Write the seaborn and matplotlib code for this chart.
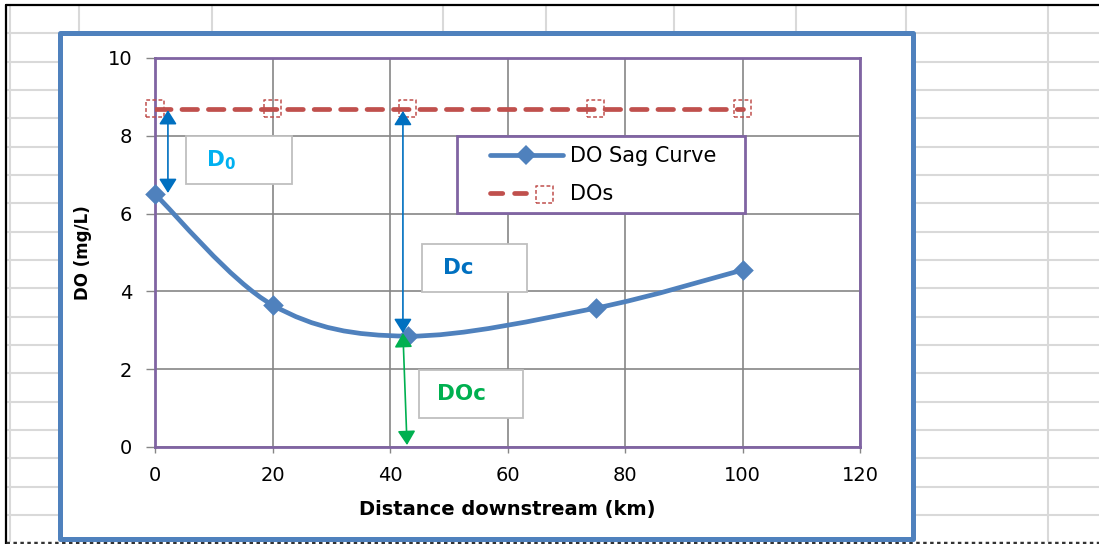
import numpy as np
import matplotlib
matplotlib.use("Agg")
import matplotlib.pyplot as plt
import seaborn as sns
from matplotlib.path import Path
from matplotlib.patches import PathPatch, Rectangle
from matplotlib.lines import Line2D
from matplotlib.legend_handler import HandlerTuple

# ---------------- data ----------------
distance_km = [0, 20, 43, 75, 100]
do_sag = [6.5, 3.65, 2.85, 3.57, 4.55]
do_sat = [8.7, 8.7, 8.7, 8.7, 8.7]
series_names = ["DO Sag Curve", "DOs"]
x_ticks = [0, 20, 40, 60, 80, 100, 120]
y_ticks = [0, 2, 4, 6, 8, 10]
x_label = "Distance downstream (km)"
y_label = "DO (mg/L)"

# ---------------- style ----------------
sns.set_style("white")
plt.rcParams["font.family"] = ["DejaVu Sans"]
plt.rcParams["mathtext.fontset"] = "dejavusans"
plt.rcParams["text.color"] = "black"
plt.rcParams["axes.labelcolor"] = "black"

W, H = 1099, 544
BLUE = "#4F81BD"
RED = "#C0504D"
PURPLE = "#8064A2"
GRID = "#868686"
SHEET = "#D9D9D9"

fig = plt.figure(figsize=(W / 100, H / 100), dpi=100)
fig.patch.set_facecolor("white")

def fx(px):
    return px / W

def fy(py):
    return 1 - py / H

# ---------------- spreadsheet background ----------------
bg = fig.add_axes([0, 0, 1, 1], zorder=-5)
bg.set_xlim(0, W)
bg.set_ylim(H, 0)
bg.axis("off")
row_lines = [33.3 + 28.33 * k for k in range(18)]
for yy in row_lines:
    bg.plot([6, 59], [yy, yy], color=SHEET, lw=1.5)
    bg.plot([913, W], [yy, yy], color=SHEET, lw=1.5)
for xx in [79, 212, 443, 546, 674, 796, 906]:
    bg.plot([xx, xx], [5, 33], color=SHEET, lw=1.5)
bg.plot([1048, 1048], [5, 541], color=SHEET, lw=1.5)
bg.plot([9.5, 9.5], [5, 541], color=SHEET, lw=1.5)
bg.plot([6, W], [5, 5], color="black", lw=1.6)
bg.plot([6, 6], [5, 544], color="black", lw=1.6)
bg.plot([6, W], [542.5, 542.5], color="#333333", lw=2.5, dashes=(1.0, 1.0))
bg.add_patch(Rectangle((59.5, 32.5), 913 - 59.5, 538.5 - 32.5, facecolor="white",
                       edgecolor=BLUE, lw=3.6, joinstyle="round", zorder=3))

# ---------------- main axes ----------------
ax = fig.add_axes([fx(155), fy(447), fx(860) - fx(155), fy(58) - fy(447)], zorder=1)
ax.set_facecolor("white")
ax.set_xlim(0, 120)
ax.set_ylim(0, 10)
ax.set_xticks(x_ticks)
ax.set_yticks(y_ticks)
ax.grid(True, color=GRID, lw=1.2)
ax.set_axisbelow(True)
for s in ax.spines.values():
    s.set_color(PURPLE)
    s.set_linewidth(2.0)
ax.tick_params(axis="y", direction="out", length=6.5, width=1.0, color=GRID,
               labelsize=14, pad=10, labelcolor="black")
ax.tick_params(axis="x", direction="out", length=4, width=1.0, color=GRID,
               labelsize=14, pad=10, labelcolor="black")
ax.tick_params(left=True, bottom=True)

ax.set_xlabel(x_label, fontsize=14, fontweight="bold", va="center", color="black")
ax.xaxis.set_label_coords(0.5, (447 - 510) / 389)
ax.set_ylabel(y_label, fontsize=12, fontweight="bold", va="center", color="black")
ax.yaxis.set_label_coords((83 - 155) / 705, 0.5)

# ---- DOs (dashed line + dashed square markers) ----
sns.lineplot(x=distance_km, y=do_sat, ax=ax, color=RED, lw=3.4, zorder=3, legend=False)
dos_line = ax.lines[-1]
dos_line.set_dashes((3.3, 2.3))
dos_line.set_dash_capstyle("round")
dos_sc = ax.scatter(distance_km, do_sat, marker="s", s=160, facecolors="none",
                    edgecolors=RED, linewidths=1.1, linestyles=(0, (2.5, 1.5)),
                    zorder=4, clip_on=False)

# ---- DO sag smooth curve (Excel-like Bezier smoothing through data) ----
P = np.column_stack([distance_km, do_sag]).astype(float)
n = len(P)
verts = [tuple(P[0])]
codes = [Path.MOVETO]
for i in range(n - 1):
    p_prev = P[i - 1] if i > 0 else P[i]
    p_next2 = P[i + 2] if i + 2 < n else P[i + 1]
    c1 = P[i] + (P[i + 1] - p_prev) / 6.0
    c2 = P[i + 1] - (p_next2 - P[i]) / 6.0
    verts += [tuple(c1), tuple(c2), tuple(P[i + 1])]
    codes += [Path.CURVE4] * 3
ax.add_patch(PathPatch(Path(verts, codes), facecolor="none", edgecolor=BLUE,
                       lw=3.4, capstyle="round", zorder=3))
sns.scatterplot(x=distance_km, y=do_sag, ax=ax, marker="D", s=110, color=BLUE,
                edgecolor=BLUE, linewidth=0, zorder=5, legend=False, clip_on=False)

# ---- annotation arrows ----
ARW = "<|-|>,head_length=0.43,head_width=0.27"
def arrow(x0, y0, x1, y1, color):
    ax.annotate("", xy=(x1, y1), xytext=(x0, y0),
                arrowprops=dict(arrowstyle=ARW, color=color, lw=1.2,
                                mutation_scale=20, shrinkA=0, shrinkB=0),
                zorder=6, annotation_clip=False)

arrow(distance_km[0] + 2.2, do_sat[0] - 0.04, distance_km[0] + 2.2, do_sag[0] + 0.03, "#0070C0")
arrow(distance_km[2] - 0.8, do_sat[2] - 0.06, distance_km[2] - 0.8, do_sag[2] + 0.08, "#0070C0")
arrow(distance_km[2] - 0.8, do_sag[2] + 0.08, distance_km[2] - 0.1, 0.05, "#00B050")

# ---- text boxes ----
def tbox(x0, y0, x1, y1, text, tx, color):
    fig.add_artist(Rectangle((fx(x0), fy(y1)), fx(x1) - fx(x0), fy(y0) - fy(y1),
                             transform=fig.transFigure, facecolor="white",
                             edgecolor="#BFBFBF", lw=1.3, zorder=3))
    fig.text(fx(tx), fy((y0 + y1) / 2), text, color=color, fontsize=15.5,
             fontweight="bold", ha="left", va="center", zorder=4)

tbox(186, 136, 292, 184, r"D$_\mathbf{0}$", 206, "#00B0F0")
tbox(421.5, 243.5, 527, 291.5, "Dc", 443, "#0070C0")
tbox(418.5, 370, 523, 418, "DOc", 437, "#00B050")

# ---- legend ----
fig.add_artist(Rectangle((fx(457), fy(213)), fx(745) - fx(457), fy(136) - fy(213),
                         transform=fig.transFigure, facecolor="white",
                         edgecolor=PURPLE, lw=2.0, zorder=3))
h_sag = Line2D([], [], color=BLUE, lw=3.4, marker="D", markersize=10,
               markeredgewidth=0)
h_dos_line = Line2D([], [], color=RED, lw=3.4, dashes=(2.6, 2.5),
                    dash_capstyle="round")
leg = fig.legend([h_sag, (h_dos_line, dos_sc)], series_names,
                 handler_map={tuple: HandlerTuple(ndivide=None)},
                 loc="center left", bbox_to_anchor=(fx(490), fy(175)),
                 frameon=False, fontsize=15, handlelength=3.5, handletextpad=0.35,
                 labelspacing=0.85, borderpad=0, borderaxespad=0, scatterpoints=1)
leg.set_zorder(4)
for t in leg.get_texts():
    t.set_color("black")

fig.savefig("out.png", dpi=100)
